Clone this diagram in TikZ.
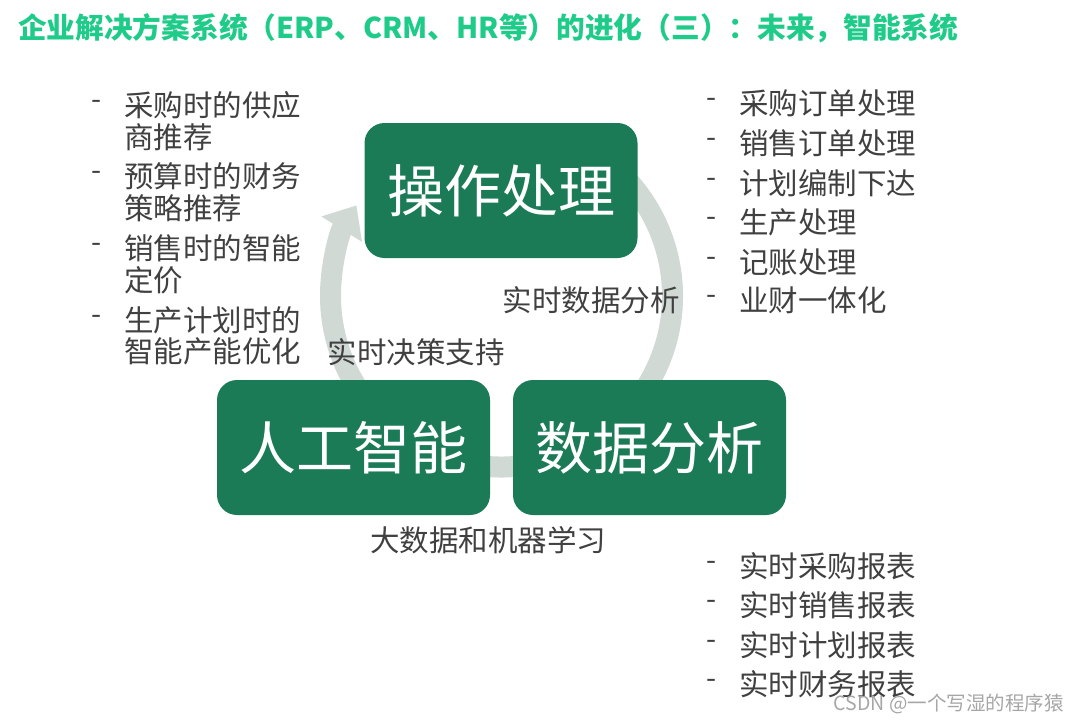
\documentclass[tikz,border=0pt]{standalone}
\usepackage{fontspec}
\newfontfamily\cjk{Noto Sans CJK SC}
\usetikzlibrary{arrows.meta}
\definecolor{boxgreen}{HTML}{1B7B57}
\definecolor{titlegreen}{HTML}{1FCB88}
\definecolor{ringgray}{HTML}{D0D9D3}
\definecolor{txtgray}{HTML}{404040}
\tikzset{
  bigbox/.style={fill=boxgreen, rounded corners=20pt, minimum width=273pt, minimum height=135pt, text=white, font=\cjk\fontsize{57}{62}\selectfont, inner sep=0pt},
  listtxt/.style={anchor=west, text=txtgray, font=\cjk\fontsize{29.5}{32}\selectfont, inner sep=0pt},
  dashtxt/.style={anchor=center, text=txtgray, font=\cjk\fontsize{29}{32}\selectfont, inner sep=0pt},
  lbl/.style={text=txtgray, font=\cjk\fontsize{29.5}{32}\selectfont, inner sep=0pt}
}
\begin{document}
\begin{tikzpicture}[x=1pt,y=-1pt]
\useasboundingbox (0,0) rectangle (1080,723);
% title
\node[anchor=west, text=titlegreen, font=\cjk\fontsize{28.7}{32}\selectfont\bfseries, inner sep=0pt] (title) at (18,28) {企业解决方案系统（ERP、CRM、HR等）的进化（三）：未来，智能系统};
% ring
\coordinate (c) at (501.5,296);
\draw[ringgray, line width=21pt, -{Triangle[width=46pt,length=28pt]}] (c) ++(-60:171) arc[start angle=-60, end angle=212, radius=171];
% boxes
\node[bigbox] (op) at (501,190.5) {操作处理};
\node[bigbox] (ai) at (353.5,447.5) {人工智能};
\node[bigbox] (da) at (649.5,447.5) {数据分析};
% labels
\node[lbl] (l1) at (591,300) {实时数据分析};
\node[lbl] (l2) at (416,352) {实时决策支持};
\node[lbl] (l3) at (488,540) {大数据和机器学习};
% left list
\foreach \y/\t [count=\i] in {105/采购时的供应,137/商推荐,176/预算时的财务,208/策略推荐,248/销售时的智能,280/定价,320/生产计划时的,351/智能产能优化}{
  \node[listtxt] (L\i) at (124,\y) {\t};
}
\foreach \y [count=\i] in {105,176,248,320}{
  \node[dashtxt] (LD\i) at (97,\y) {-};
}
% right top list
\foreach \y/\t [count=\i] in {103/采购订单处理,143/销售订单处理,183/计划编制下达,222/生产处理,262/记账处理,300/业财一体化}{
  \node[listtxt] (R\i) at (739,\y) {\t};
  \node[dashtxt] (RD\i) at (712,\y) {-};
}
% right bottom list
\foreach \y/\t [count=\i] in {566/实时采购报表,605/实时销售报表,645/实时计划报表,684/实时财务报表}{
  \node[listtxt] (B\i) at (739,\y) {\t};
  \node[dashtxt] (BD\i) at (712,\y) {-};
}
% watermark
\node[anchor=east, text=gray!70, font=\cjk\fontsize{19.5}{22}\selectfont, inner sep=0pt] (wm) at (1064,704) {CSDN @一个写湿的程序猿};
\end{tikzpicture}
\end{document}
